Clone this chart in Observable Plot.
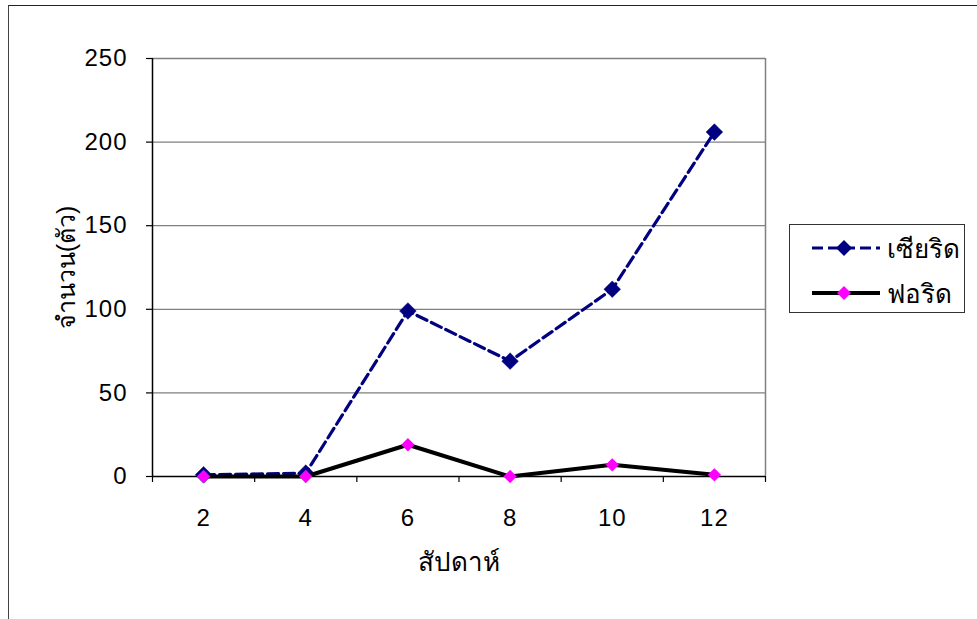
<!DOCTYPE html>
<html>
<head>
<meta charset="utf-8">
<script src="https://cdn.jsdelivr.net/npm/d3@7"></script>
<script src="https://cdn.jsdelivr.net/npm/@observablehq/plot@0.6"></script>
<style>
  html, body { margin: 0; padding: 0; background: #fff; }
  #wrap { position: relative; width: 977px; height: 619px; overflow: hidden; font-family: "Liberation Sans", "DejaVu Sans", sans-serif; }
  #frame { position: absolute; left: 8px; top: 5px; width: 980px; height: 620px; border-top: 1.5px solid #222; border-left: 1.5px solid #444; box-sizing: border-box; pointer-events: none; }
  #legend { position: absolute; left: 789px; top: 224px; width: 176px; height: 89px; border: 1px solid #333; box-sizing: border-box; background: #fff; }
  .row { position: absolute; left: 0; height: 34px; display: flex; align-items: center; }
  .row span { font-size: 26px; color: #000; margin-left: 2px; }
</style>
</head>
<body>
<div id="wrap"><div id="frame"></div><div id="chart"></div><div id="legend"></div></div>
<script>
const weeks = [2, 4, 6, 8, 10, 12];
const weekSlot = [1, 2, 3, 4, 5, 6]; // slot positions for each week
const seriesNames = ["เซียริด", "ฟอริด"];
const sciarid = [1, 2, 99, 69, 112, 206];
const phorid = [0, 0, 19, 0, 7, 1];
const yTicks = [0, 50, 100, 150, 200, 250];
const xLabel = "สัปดาห์";
const yLabel = "จำนวน(ตัว)";

const rowsA = weeks.map((w, i) => ({slot: weekSlot[i], week: w, value: sciarid[i]}));
const rowsB = weeks.map((w, i) => ({slot: weekSlot[i], week: w, value: phorid[i]}));
const slotBounds = d3.range(0.5, weeks.length + 1, 1);

const fontFam = '"Liberation Sans", "DejaVu Sans", sans-serif';

const chart = Plot.plot({
  width: 977,
  height: 619,
  marginLeft: 152,
  marginRight: 212,
  marginTop: 58,
  marginBottom: 143,
  style: {fontFamily: fontFam, fontSize: "24px", background: "transparent", overflow: "visible"},
  x: {domain: [0.5, weeks.length + 0.5], axis: null},
  y: {domain: [0, 250], axis: null},
  marks: [
    Plot.gridY(yTicks.slice(1), {stroke: "#808080", strokeOpacity: 1, strokeWidth: 1.3}),
    Plot.ruleX([weeks.length + 0.5], {stroke: "#808080", strokeWidth: 1.5}),
    Plot.axisX(slotBounds, {tickSize: 6, tickFormat: () => "", stroke: "#000", strokeWidth: 1.2, label: null}),
    Plot.axisX(weekSlot, {tickSize: 0, tickPadding: 32, tickFormat: (d, i) => String(weeks[i]), fill: "#000", fontSize: 24, label: null}),
    Plot.axisY(yTicks, {tickSize: 6, tickPadding: 19, stroke: "#000", strokeWidth: 1.2, fill: "#000", fontSize: 24, label: null}),
    Plot.text([xLabel], {frameAnchor: "bottom", dy: 94, fontSize: 26, fill: "#000"}),
    Plot.text([yLabel], {frameAnchor: "left", textAnchor: "middle", dx: -86, rotate: -90, fontSize: 25, fill: "#000"}),
    Plot.ruleX([0.5], {stroke: "#000", strokeWidth: 1.5}),
    Plot.ruleY([0], {stroke: "#000", strokeWidth: 1.5}),
    Plot.line(rowsA, {x: "slot", y: "value", stroke: "#000080", strokeWidth: 3.2, strokeDasharray: "11,5"}),
    Plot.dot(rowsA, {x: "slot", y: "value", symbol: "diamond2", r: 7.5, fill: "#000080", stroke: "#000080", strokeWidth: 0.5}),
    Plot.line(rowsB, {x: "slot", y: "value", stroke: "#000", strokeWidth: 4}),
    Plot.dot(rowsB, {x: "slot", y: "value", symbol: "diamond2", r: 6, fill: "#ff00ff"})
  ]
});
chart.querySelectorAll("text").forEach(t => { if (/^\d+$/.test(t.textContent)) t.style.letterSpacing = "1px"; });
document.getElementById("chart").appendChild(chart);

// legend
const legend = document.getElementById("legend");
const styles = [
  {color: "#000080", dash: "11,5", width: 3.2, mfill: "#000080", ms: 8},
  {color: "#000", dash: null, width: 4, mfill: "#ff00ff", ms: 7}
];
seriesNames.forEach((name, i) => {
  const s = styles[i];
  const row = document.createElement("div");
  row.className = "row";
  row.style.top = (i === 0 ? 6 : 51) + "px";
  row.innerHTML = `<svg width="95" height="34" style="display:block">
    <line x1="22" x2="90" y1="17" y2="17" stroke="${s.color}" stroke-width="${s.width}" ${s.dash ? `stroke-dasharray="${s.dash}"` : ""}/>
    <path d="M54,${17 - s.ms}L${54 + s.ms},17L54,${17 + s.ms}L${54 - s.ms},17Z" fill="${s.mfill}"/>
  </svg><span>${name}</span>`;
  legend.appendChild(row);
});
</script>
</body>
</html>
